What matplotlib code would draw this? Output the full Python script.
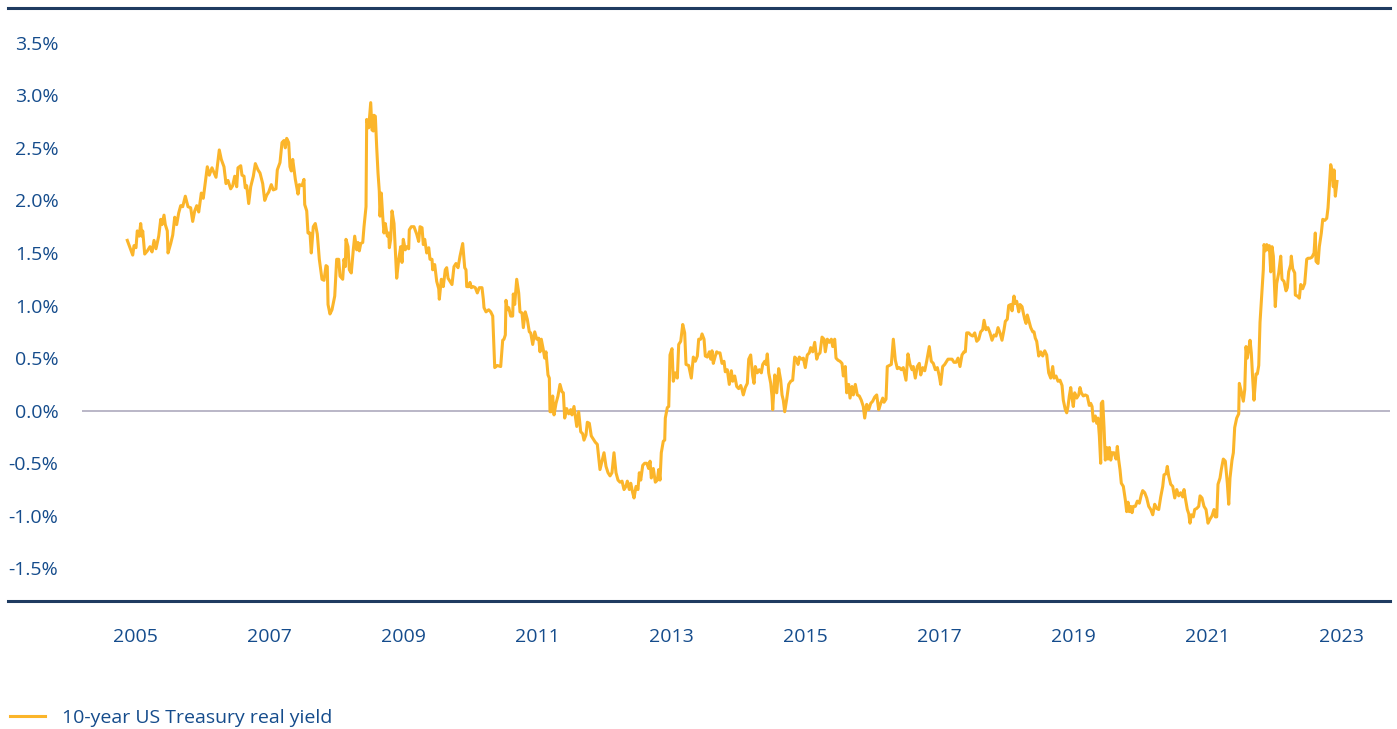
import matplotlib
matplotlib.use("Agg")
import matplotlib.pyplot as plt
from matplotlib.lines import Line2D
from matplotlib.ticker import FuncFormatter

# ---- data: decimal year, 10-year US Treasury real yield (%) ----
dates = [
    2004.885, 2004.925, 2004.966, 2004.985, 2005.015, 2005.034, 2005.064, 2005.085, 2005.104, 2005.115,
    2005.145, 2005.184, 2005.224, 2005.254, 2005.284, 2005.313, 2005.354, 2005.384, 2005.403, 2005.433,
    2005.452, 2005.482, 2005.493, 2005.533, 2005.563, 2005.593, 2005.622, 2005.652, 2005.682, 2005.712,
    2005.751, 2005.791, 2005.831, 2005.861, 2005.891, 2005.921, 2005.951, 2005.990, 2006.019, 2006.079,
    2006.109, 2006.149, 2006.209, 2006.258, 2006.288, 2006.328, 2006.358, 2006.388, 2006.428, 2006.458,
    2006.488, 2006.518, 2006.537, 2006.578, 2006.597, 2006.627, 2006.646, 2006.667, 2006.697, 2006.727,
    2006.766, 2006.796, 2006.836, 2006.866, 2006.906, 2006.936, 2006.966, 2006.996, 2007.034, 2007.064,
    2007.104, 2007.124, 2007.164, 2007.194, 2007.224, 2007.243, 2007.264, 2007.294, 2007.313, 2007.333,
    2007.354, 2007.393, 2007.433, 2007.452, 2007.493, 2007.522, 2007.533, 2007.563, 2007.582, 2007.612,
    2007.631, 2007.661, 2007.691, 2007.721, 2007.751, 2007.791, 2007.821, 2007.851, 2007.870, 2007.881,
    2007.910, 2007.940, 2007.981, 2008.010, 2008.040, 2008.060, 2008.100, 2008.119, 2008.139, 2008.149,
    2008.179, 2008.199, 2008.228, 2008.258, 2008.279, 2008.309, 2008.328, 2008.348, 2008.369, 2008.399,
    2008.418, 2008.448, 2008.458, 2008.488, 2008.518, 2008.537, 2008.557, 2008.567, 2008.587, 2008.607,
    2008.627, 2008.646, 2008.657, 2008.676, 2008.697, 2008.716, 2008.736, 2008.766, 2008.787, 2008.796,
    2008.816, 2008.836, 2008.866, 2008.906, 2008.936, 2008.966, 2008.985, 2009.004, 2009.034, 2009.055,
    2009.085, 2009.094, 2009.124, 2009.164, 2009.204, 2009.234, 2009.254, 2009.284, 2009.303, 2009.324,
    2009.354, 2009.384, 2009.403, 2009.433, 2009.443, 2009.473, 2009.503, 2009.533, 2009.542, 2009.572,
    2009.601, 2009.631, 2009.652, 2009.672, 2009.701, 2009.731, 2009.761, 2009.791, 2009.821, 2009.851,
    2009.891, 2009.921, 2009.940, 2009.951, 2009.981, 2010.000, 2010.019, 2010.049, 2010.079, 2010.109,
    2010.139, 2010.179, 2010.199, 2010.209, 2010.239, 2010.279, 2010.309, 2010.339, 2010.369, 2010.407,
    2010.458, 2010.488, 2010.507, 2010.527, 2010.537, 2010.557, 2010.578, 2010.607, 2010.637, 2010.646,
    2010.667, 2010.697, 2010.727, 2010.746, 2010.776, 2010.796, 2010.825, 2010.855, 2010.885, 2010.906,
    2010.936, 2010.966, 2010.996, 2011.025, 2011.045, 2011.064, 2011.094, 2011.115, 2011.134, 2011.164,
    2011.184, 2011.194, 2011.213, 2011.234, 2011.254, 2011.284, 2011.313, 2011.343, 2011.373, 2011.393,
    2011.413, 2011.443, 2011.473, 2011.503, 2011.522, 2011.552, 2011.593, 2011.622, 2011.652, 2011.682,
    2011.701, 2011.731, 2011.751, 2011.781, 2011.810, 2011.840, 2011.870, 2011.900, 2011.940, 2011.970,
    2012.000, 2012.030, 2012.060, 2012.090, 2012.119, 2012.149, 2012.179, 2012.209, 2012.239, 2012.269,
    2012.299, 2012.328, 2012.348, 2012.378, 2012.399, 2012.428, 2012.448, 2012.478, 2012.507, 2012.527,
    2012.548, 2012.578, 2012.607, 2012.637, 2012.667, 2012.687, 2012.706, 2012.736, 2012.766, 2012.796,
    2012.816, 2012.836, 2012.855, 2012.885, 2012.906, 2012.915, 2012.945, 2012.966, 2012.985, 2013.015,
    2013.034, 2013.064, 2013.094, 2013.115, 2013.145, 2013.175, 2013.204, 2013.224, 2013.264, 2013.303,
    2013.333, 2013.363, 2013.393, 2013.413, 2013.443, 2013.463, 2013.493, 2013.512, 2013.542, 2013.572,
    2013.593, 2013.612, 2013.631, 2013.661, 2013.682, 2013.701, 2013.731, 2013.761, 2013.791, 2013.810,
    2013.840, 2013.870, 2013.900, 2013.921, 2013.951, 2013.981, 2014.010, 2014.040, 2014.060, 2014.079,
    2014.109, 2014.139, 2014.160, 2014.189, 2014.219, 2014.239, 2014.258, 2014.288, 2014.318, 2014.348,
    2014.369, 2014.399, 2014.418, 2014.437, 2014.458, 2014.488, 2014.507, 2014.518, 2014.548, 2014.578,
    2014.607, 2014.637, 2014.657, 2014.676, 2014.697, 2014.727, 2014.757, 2014.787, 2014.816, 2014.846,
    2014.876, 2014.896, 2014.915, 2014.945, 2014.975, 2015.004, 2015.034, 2015.064, 2015.085, 2015.115,
    2015.145, 2015.175, 2015.194, 2015.224, 2015.254, 2015.284, 2015.303, 2015.333, 2015.363, 2015.393,
    2015.413, 2015.443, 2015.463, 2015.493, 2015.522, 2015.552, 2015.572, 2015.601, 2015.622, 2015.652,
    2015.672, 2015.701, 2015.721, 2015.751, 2015.781, 2015.810, 2015.840, 2015.870, 2015.891, 2015.921,
    2015.951, 2015.981, 2016.010, 2016.040, 2016.070, 2016.100, 2016.130, 2016.160, 2016.179, 2016.209,
    2016.228, 2016.258, 2016.288, 2016.318, 2016.348, 2016.378, 2016.407, 2016.437, 2016.467, 2016.507,
    2016.537, 2016.567, 2016.597, 2016.616, 2016.646, 2016.676, 2016.706, 2016.727, 2016.757, 2016.787,
    2016.816, 2016.855, 2016.885, 2016.915, 2016.945, 2016.975, 2017.004, 2017.025, 2017.055, 2017.085,
    2017.104, 2017.134, 2017.164, 2017.194, 2017.224, 2017.254, 2017.284, 2017.313, 2017.343, 2017.373,
    2017.393, 2017.413, 2017.443, 2017.473, 2017.503, 2017.533, 2017.563, 2017.593, 2017.622, 2017.652,
    2017.672, 2017.701, 2017.731, 2017.761, 2017.791, 2017.821, 2017.851, 2017.881, 2017.910, 2017.940,
    2017.970, 2017.990, 2018.019, 2018.040, 2018.070, 2018.090, 2018.119, 2018.139, 2018.160, 2018.190,
    2018.209, 2018.239, 2018.258, 2018.279, 2018.299, 2018.318, 2018.348, 2018.369, 2018.399, 2018.418,
    2018.437, 2018.458, 2018.488, 2018.518, 2018.548, 2018.578, 2018.607, 2018.637, 2018.667, 2018.697,
    2018.716, 2018.746, 2018.776, 2018.806, 2018.836, 2018.855, 2018.885, 2018.906, 2018.925, 2018.945,
    2018.966, 2018.985, 2019.004, 2019.025, 2019.055, 2019.085, 2019.104, 2019.124, 2019.154, 2019.184,
    2019.213, 2019.243, 2019.264, 2019.284, 2019.303, 2019.333, 2019.354, 2019.373, 2019.393, 2019.413,
    2019.422, 2019.443, 2019.463, 2019.482, 2019.503, 2019.522, 2019.542, 2019.563, 2019.582, 2019.612,
    2019.642, 2019.661, 2019.682, 2019.701, 2019.721, 2019.751, 2019.781, 2019.801, 2019.821, 2019.840,
    2019.861, 2019.881, 2019.900, 2019.930, 2019.960, 2019.990, 2020.019, 2020.040, 2020.070, 2020.100,
    2020.130, 2020.160, 2020.190, 2020.219, 2020.249, 2020.279, 2020.309, 2020.339, 2020.358, 2020.388,
    2020.407, 2020.428, 2020.458, 2020.488, 2020.518, 2020.548, 2020.578, 2020.607, 2020.637, 2020.657,
    2020.676, 2020.706, 2020.727, 2020.746, 2020.766, 2020.796, 2020.816, 2020.846, 2020.876, 2020.896,
    2020.925, 2020.955, 2020.985, 2021.015, 2021.045, 2021.075, 2021.104, 2021.124, 2021.145, 2021.164,
    2021.194, 2021.213, 2021.243, 2021.273, 2021.303, 2021.324, 2021.343, 2021.373, 2021.393, 2021.413,
    2021.443, 2021.473, 2021.482, 2021.512, 2021.542, 2021.563, 2021.582, 2021.601, 2021.622, 2021.642,
    2021.661, 2021.682, 2021.701, 2021.731, 2021.751, 2021.772, 2021.791, 2021.821, 2021.840, 2021.851,
    2021.870, 2021.891, 2021.910, 2021.930, 2021.951, 2021.970, 2021.990, 2022.019, 2022.040, 2022.070,
    2022.100, 2022.119, 2022.149, 2022.179, 2022.199, 2022.219, 2022.249, 2022.258, 2022.279, 2022.309,
    2022.318, 2022.348, 2022.378, 2022.399, 2022.428, 2022.458, 2022.488, 2022.507, 2022.537, 2022.567,
    2022.597, 2022.616, 2022.627, 2022.657, 2022.676, 2022.706, 2022.727, 2022.757, 2022.787, 2022.806,
    2022.825, 2022.846, 2022.866, 2022.885, 2022.896, 2022.915, 2022.940,
]

real_yield = [
    1.62, 1.55, 1.48, 1.57, 1.55, 1.71, 1.66, 1.78, 1.66, 1.71,
    1.49, 1.52, 1.56, 1.51, 1.62, 1.54, 1.66, 1.82, 1.77, 1.86,
    1.77, 1.71, 1.50, 1.59, 1.67, 1.84, 1.77, 1.88, 1.95, 1.94,
    2.04, 1.94, 1.93, 1.80, 1.90, 1.95, 1.89, 2.07, 2.02, 2.32,
    2.24, 2.31, 2.22, 2.48, 2.39, 2.32, 2.16, 2.19, 2.11, 2.14,
    2.23, 2.13, 2.31, 2.33, 2.24, 2.23, 2.12, 2.14, 1.97, 2.13,
    2.23, 2.35, 2.29, 2.26, 2.16, 2.00, 2.05, 2.08, 2.15, 2.10,
    2.11, 2.29, 2.36, 2.55, 2.57, 2.50, 2.59, 2.55, 2.32, 2.28,
    2.39, 2.20, 2.06, 2.15, 2.14, 2.20, 1.96, 1.90, 1.69, 1.69,
    1.50, 1.75, 1.78, 1.68, 1.44, 1.25, 1.24, 1.38, 1.37, 1.01,
    0.92, 0.96, 1.09, 1.44, 1.44, 1.28, 1.25, 1.44, 1.37, 1.63,
    1.56, 1.34, 1.31, 1.53, 1.66, 1.53, 1.60, 1.52, 1.59, 1.60,
    1.75, 1.94, 2.77, 2.69, 2.93, 2.67, 2.66, 2.81, 2.80, 2.51,
    2.26, 2.09, 1.85, 2.07, 1.85, 1.69, 1.78, 1.66, 1.69, 1.55,
    1.63, 1.90, 1.78, 1.26, 1.44, 1.56, 1.41, 1.63, 1.53, 1.56,
    1.54, 1.72, 1.75, 1.75, 1.68, 1.61, 1.75, 1.74, 1.58, 1.63,
    1.50, 1.55, 1.44, 1.44, 1.34, 1.39, 1.23, 1.16, 1.06, 1.25,
    1.18, 1.34, 1.36, 1.26, 1.23, 1.20, 1.37, 1.40, 1.36, 1.47,
    1.59, 1.36, 1.34, 1.18, 1.18, 1.22, 1.17, 1.18, 1.17, 1.12,
    1.17, 1.17, 1.06, 0.98, 0.94, 0.96, 0.94, 0.90, 0.41, 0.43,
    0.42, 0.67, 0.68, 0.72, 1.05, 0.96, 0.98, 0.90, 0.90, 1.11,
    1.01, 1.25, 1.12, 0.94, 0.93, 0.79, 0.94, 0.87, 0.75, 0.74,
    0.63, 0.75, 0.68, 0.69, 0.56, 0.68, 0.58, 0.50, 0.56, 0.34,
    0.31, -0.01, -0.01, 0.14, -0.04, 0.07, 0.14, 0.25, 0.18, 0.17,
    -0.07, 0.02, -0.03, 0.01, -0.04, 0.04, -0.15, -0.01, -0.20, -0.22,
    -0.28, -0.23, -0.11, -0.12, -0.24, -0.27, -0.30, -0.32, -0.56, -0.48,
    -0.40, -0.53, -0.59, -0.62, -0.59, -0.40, -0.59, -0.66, -0.68, -0.67,
    -0.75, -0.72, -0.67, -0.75, -0.69, -0.78, -0.83, -0.72, -0.75, -0.59,
    -0.66, -0.52, -0.50, -0.50, -0.55, -0.48, -0.64, -0.55, -0.68, -0.66,
    -0.56, -0.66, -0.40, -0.29, -0.28, -0.07, 0.03, 0.04, 0.53, 0.59,
    0.28, 0.36, 0.31, 0.63, 0.66, 0.82, 0.74, 0.44, 0.43, 0.31,
    0.51, 0.47, 0.52, 0.68, 0.68, 0.73, 0.68, 0.52, 0.51, 0.56,
    0.49, 0.57, 0.45, 0.52, 0.56, 0.55, 0.55, 0.45, 0.47, 0.37,
    0.39, 0.25, 0.38, 0.28, 0.33, 0.23, 0.21, 0.24, 0.20, 0.15,
    0.22, 0.26, 0.49, 0.53, 0.33, 0.26, 0.42, 0.36, 0.39, 0.36,
    0.44, 0.47, 0.44, 0.54, 0.36, 0.26, 0.14, 0.01, 0.34, 0.17,
    0.40, 0.29, 0.15, 0.10, -0.01, 0.11, 0.25, 0.28, 0.29, 0.51,
    0.49, 0.44, 0.51, 0.49, 0.50, 0.41, 0.53, 0.55, 0.60, 0.56,
    0.65, 0.49, 0.53, 0.55, 0.70, 0.68, 0.56, 0.68, 0.65, 0.68,
    0.61, 0.68, 0.50, 0.48, 0.47, 0.45, 0.33, 0.42, 0.17, 0.25,
    0.12, 0.23, 0.15, 0.25, 0.15, 0.14, 0.10, 0.04, -0.07, 0.06,
    0.01, 0.07, 0.09, 0.13, 0.15, 0.01, 0.07, 0.12, 0.08, 0.11,
    0.42, 0.43, 0.44, 0.68, 0.48, 0.40, 0.41, 0.39, 0.41, 0.29,
    0.54, 0.44, 0.39, 0.42, 0.31, 0.42, 0.45, 0.34, 0.41, 0.38,
    0.47, 0.61, 0.47, 0.45, 0.39, 0.41, 0.33, 0.25, 0.42, 0.44,
    0.46, 0.49, 0.49, 0.49, 0.46, 0.46, 0.50, 0.42, 0.53, 0.56,
    0.56, 0.74, 0.74, 0.72, 0.71, 0.74, 0.66, 0.68, 0.75, 0.77,
    0.86, 0.77, 0.79, 0.74, 0.67, 0.72, 0.71, 0.79, 0.74, 0.67,
    0.77, 0.85, 0.87, 1.00, 1.01, 0.95, 1.09, 1.02, 1.04, 0.94,
    1.01, 0.99, 0.93, 0.87, 0.83, 0.91, 0.84, 0.79, 0.75, 0.75,
    0.69, 0.66, 0.52, 0.56, 0.52, 0.57, 0.53, 0.36, 0.31, 0.42,
    0.31, 0.33, 0.28, 0.29, 0.24, 0.10, 0.01, -0.02, 0.04, 0.14,
    0.22, 0.12, 0.04, 0.17, 0.12, 0.15, 0.22, 0.17, 0.14, 0.15,
    0.14, 0.05, 0.07, 0.04, -0.10, -0.05, -0.12, -0.07, -0.24, -0.50,
    0.07, 0.09, -0.16, -0.47, -0.35, -0.46, -0.35, -0.47, -0.40, -0.40,
    -0.46, -0.34, -0.47, -0.56, -0.69, -0.72, -0.85, -0.96, -0.87, -0.96,
    -0.91, -0.97, -0.91, -0.91, -0.86, -0.88, -0.80, -0.76, -0.78, -0.83,
    -0.91, -0.94, -0.99, -0.89, -0.93, -0.94, -0.82, -0.72, -0.61, -0.60,
    -0.53, -0.62, -0.70, -0.72, -0.83, -0.75, -0.81, -0.78, -0.82, -0.75,
    -0.83, -0.94, -0.98, -1.07, -0.99, -1.01, -0.94, -0.93, -0.91, -0.81,
    -0.83, -0.91, -0.94, -1.07, -1.03, -1.00, -0.94, -1.01, -1.01, -0.70,
    -0.64, -0.56, -0.46, -0.48, -0.69, -0.89, -0.64, -0.47, -0.40, -0.16,
    -0.07, -0.03, 0.26, 0.18, 0.09, 0.20, 0.61, 0.50, 0.58, 0.67,
    0.55, 0.30, 0.10, 0.35, 0.35, 0.43, 0.84, 1.15, 1.34, 1.58,
    1.52, 1.58, 1.53, 1.57, 1.32, 1.56, 1.47, 0.99, 1.21, 1.31,
    1.47, 1.25, 1.23, 1.14, 1.17, 1.32, 1.39, 1.47, 1.35, 1.31,
    1.10, 1.09, 1.07, 1.20, 1.16, 1.21, 1.44, 1.45, 1.45, 1.46,
    1.50, 1.69, 1.42, 1.40, 1.56, 1.69, 1.82, 1.81, 1.83, 1.93,
    2.13, 2.34, 2.28, 2.13, 2.29, 2.04, 2.18,
]

y_ticks = [-1.5, -1.0, -0.5, 0.0, 0.5, 1.0, 1.5, 2.0, 2.5, 3.0, 3.5]
x_ticks = [2005, 2007, 2009, 2011, 2013, 2015, 2017, 2019, 2021, 2023]
series_label = "10-year US Treasury real yield"

# ---- style ----
LINE_COLOR = "#FBB52A"
TEXT_COLOR = "#154c8c"
FRAME_COLOR = "#1f3b61"
ZERO_COLOR = "#aeaabd"
FS = 14

plt.rcParams["font.family"] = ["Open Sans", "DejaVu Sans"]

W, H = 1397, 729
fig = plt.figure(figsize=(W / 100, H / 100), dpi=100)
ax = fig.add_axes([82 / W, (H - 601) / H, (1390 - 82) / W, (601 - 8) / H])

line, = ax.plot(dates, real_yield, color=LINE_COLOR, lw=2.2, solid_joinstyle="round",
                label=series_label, zorder=3)
ax.axhline(0, color=ZERO_COLOR, lw=1.2, zorder=2)

ax.set_xlim(2004.209, 2023.731)
ax.set_ylim(-1.81, 3.83)
ax.set_yticks(y_ticks)
ax.set_xticks(x_ticks)
ax.yaxis.set_major_formatter(FuncFormatter(lambda v, p: f"{v:.1f}%"))
ax.tick_params(axis="both", length=0, labelsize=FS, labelcolor=TEXT_COLOR)
ax.tick_params(axis="y", pad=17)
ax.tick_params(axis="x", pad=19.5)
for s in ax.spines.values():
    s.set_visible(False)

# top and bottom rules spanning the full width
for ypix in (8, 601):
    yf = (H - ypix) / H
    fig.add_artist(Line2D([8 / W, 1390 / W], [yf, yf], color=FRAME_COLOR, lw=2.2))

fig.legend(handles=[line], labels=[series_label], loc="center left",
           bbox_to_anchor=(4 / W, (H - 718) / H), frameon=False,
           fontsize=FS, labelcolor=TEXT_COLOR, handlelength=1.8,
           handletextpad=0.88, borderaxespad=0, borderpad=0.3)

fig.savefig("out.png", dpi=100)
